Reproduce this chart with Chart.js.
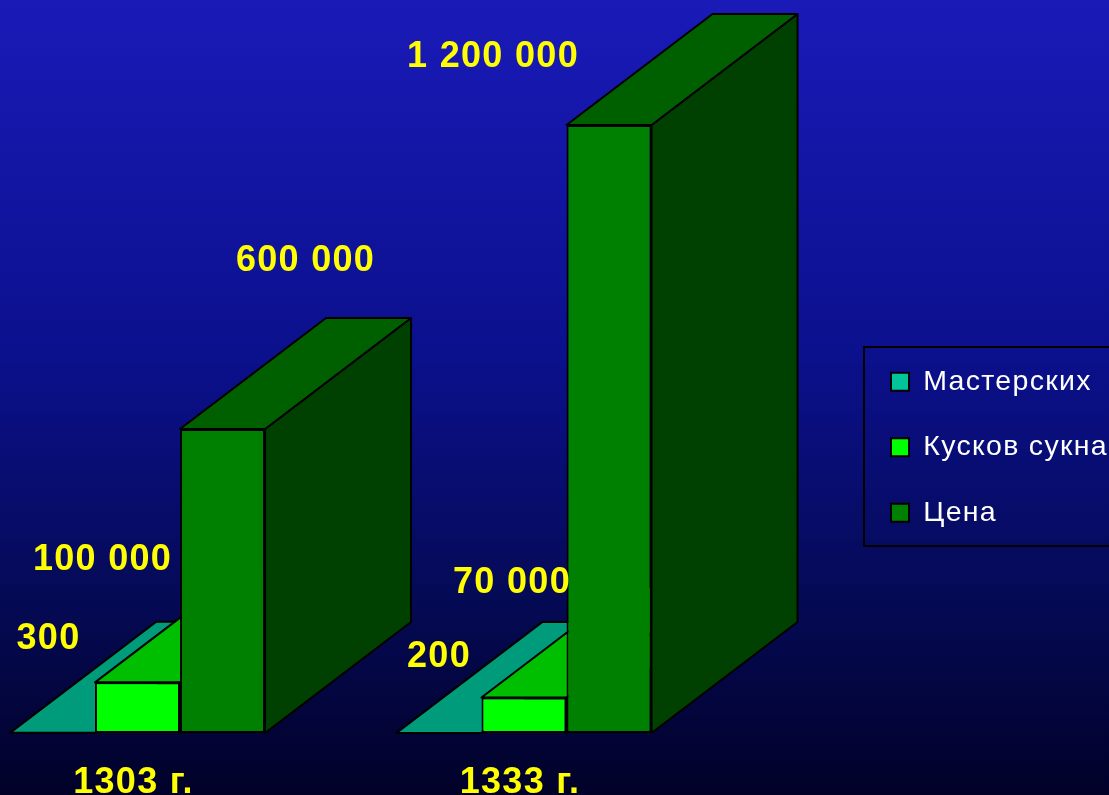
<!DOCTYPE html>
<html>
<head>
<meta charset="utf-8">
<title>Мастерские, сукно и цена</title>
<script src="https://cdn.jsdelivr.net/npm/chart.js@4"></script>
<style>
    html, body { margin: 0; padding: 0; background: #000028; overflow: hidden; }
    canvas { display: block; }
</style>
</head>
<body>
<canvas id="chart" width="1109" height="795"></canvas>
<script>
// Data
const years = ["1303 г.", "1333 г."];
const workshops = [300, 200];
const clothPieces = [100000, 70000];
const prices = [600000, 1200000];

// Where each value label sits, relative to the top of its bar
const workshopsLabelShift = [[-4, -94], [0, -76]];
const clothLabelShift = [[-35, -122], [-12, -114]];
const pricesLabelShift = [[83, -168], [-116, -68]];

// Fake 3D depth of the bars, in pixels
const DEPTH_X = 146;
const DEPTH_Y = -111;

function fillFace(ctx, points, color) {
    ctx.beginPath();
    points.forEach((p, i) => i ? ctx.lineTo(p[0], p[1]) : ctx.moveTo(p[0], p[1]));
    ctx.closePath();
    ctx.fillStyle = color;
    ctx.fill();
    ctx.stroke();
}

function drawDepth(ctx, dataset, meta) {
    ctx.save();
    ctx.strokeStyle = "#000000";
    ctx.lineWidth = 2;
    ctx.lineJoin = "round";
    meta.data.forEach(bar => {
        const left = bar.x - bar.width / 2;
        const right = bar.x + bar.width / 2;
        fillFace(ctx, [
            [right, bar.base], [right + DEPTH_X, bar.base + DEPTH_Y],
            [right + DEPTH_X, bar.y + DEPTH_Y], [right, bar.y]
        ], dataset.sideColor);
        fillFace(ctx, [
            [left, bar.y], [right, bar.y],
            [right + DEPTH_X, bar.y + DEPTH_Y], [left + DEPTH_X, bar.y + DEPTH_Y]
        ], dataset.topColor);
    });
    ctx.restore();
}

const slidePlugin = {
    id: "slide",
    afterLayout(chart) {
        // Legend sits on top of the picture, it doesn't take room from the bars
        const legend = chart.legend;
        legend.left = 854;
        legend.right = 1109;
        legend.top = 330.5;
        legend.bottom = 795;
    },
    beforeDraw(chart) {
        const ctx = chart.ctx;
        ctx.letterSpacing = "1.3px";

        const gradient = ctx.createLinearGradient(0, 0, 0, 795);
        gradient.addColorStop(0, "#1a1ab8");
        gradient.addColorStop(0.45, "#0b108c");
        gradient.addColorStop(0.75, "#050a56");
        gradient.addColorStop(1, "#010128");
        ctx.fillStyle = gradient;
        ctx.fillRect(0, 0, 1109, 795);

        // Legend frame
        ctx.strokeStyle = "#000000";
        ctx.lineWidth = 2;
        ctx.strokeRect(864, 347, 260, 199);
    },
    beforeDatasetsDraw(chart) {
        // Left bar first, so the taller bar to its right covers its depth faces
        chart.data.datasets.forEach((dataset, d) => {
            const meta = chart.getDatasetMeta(d);
            drawDepth(chart.ctx, dataset, meta);
            meta.controller.draw();
        });
        return false;
    },
    afterDraw(chart) {
        const ctx = chart.ctx;
        ctx.save();
        ctx.fillStyle = "#ffff00";
        ctx.font = "bold 36px 'Liberation Sans'";
        ctx.textAlign = "center";
        ctx.textBaseline = "middle";
        chart.data.datasets.forEach((dataset, d) => {
            chart.getDatasetMeta(d).data.forEach((bar, i) => {
                const text = String(dataset.data[i]).replace(/\B(?=(\d{3})+$)/g, " ");
                const shift = dataset.labelShift[i];
                ctx.fillText(text, bar.x + shift[0], bar.y + shift[1]);
            });
        });
        ctx.restore();
    }
};

new Chart(document.getElementById("chart"), {
    type: "bar",
    data: {
        labels: years,
        datasets: [
            {
                label: "Мастерских",
                data: workshops,
                backgroundColor: "#00c49a",
                topColor: "#009b7a",
                sideColor: "#006e56",
                labelShift: workshopsLabelShift
            },
            {
                label: "Кусков сукна",
                data: clothPieces,
                backgroundColor: "#00ff00",
                topColor: "#00be00",
                sideColor: "#008800",
                labelShift: clothLabelShift
            },
            {
                label: "Цена",
                data: prices,
                backgroundColor: "#008000",
                topColor: "#006000",
                sideColor: "#004000",
                labelShift: pricesLabelShift
            }
        ]
    },
    options: {
        responsive: false,
        animation: false,
        events: [],
        layout: { padding: { left: 137.5, right: 584, top: 125, bottom: 0 } },
        datasets: {
            bar: {
                categoryPercentage: 0.66,
                barPercentage: 1,
                borderColor: "#000000",
                borderWidth: 2,
                borderSkipped: false
            }
        },
        scales: {
            x: {
                offset: false,
                grid: { display: false },
                border: { display: false },
                afterFit: scale => { scale.height = 62; },
                ticks: {
                    color: "#ffff00",
                    font: { family: "'Liberation Sans'", size: 36, weight: "bold", lineHeight: 1 },
                    padding: 24,
                    labelOffset: -4,
                    maxRotation: 0,
                    autoSkip: false
                }
            },
            y: {
                display: false,
                min: 0,
                max: 1200000
            }
        },
        plugins: {
            tooltip: { enabled: false },
            title: { display: false },
            legend: {
                position: "right",
                align: "start",
                maxWidth: 1,
                labels: {
                    color: "#ffffff",
                    font: { family: "'Liberation Sans'", size: 28.5 },
                    boxWidth: 18,
                    boxHeight: 18,
                    padding: 37
                }
            }
        }
    },
    plugins: [slidePlugin]
});
</script>
</body>
</html>
